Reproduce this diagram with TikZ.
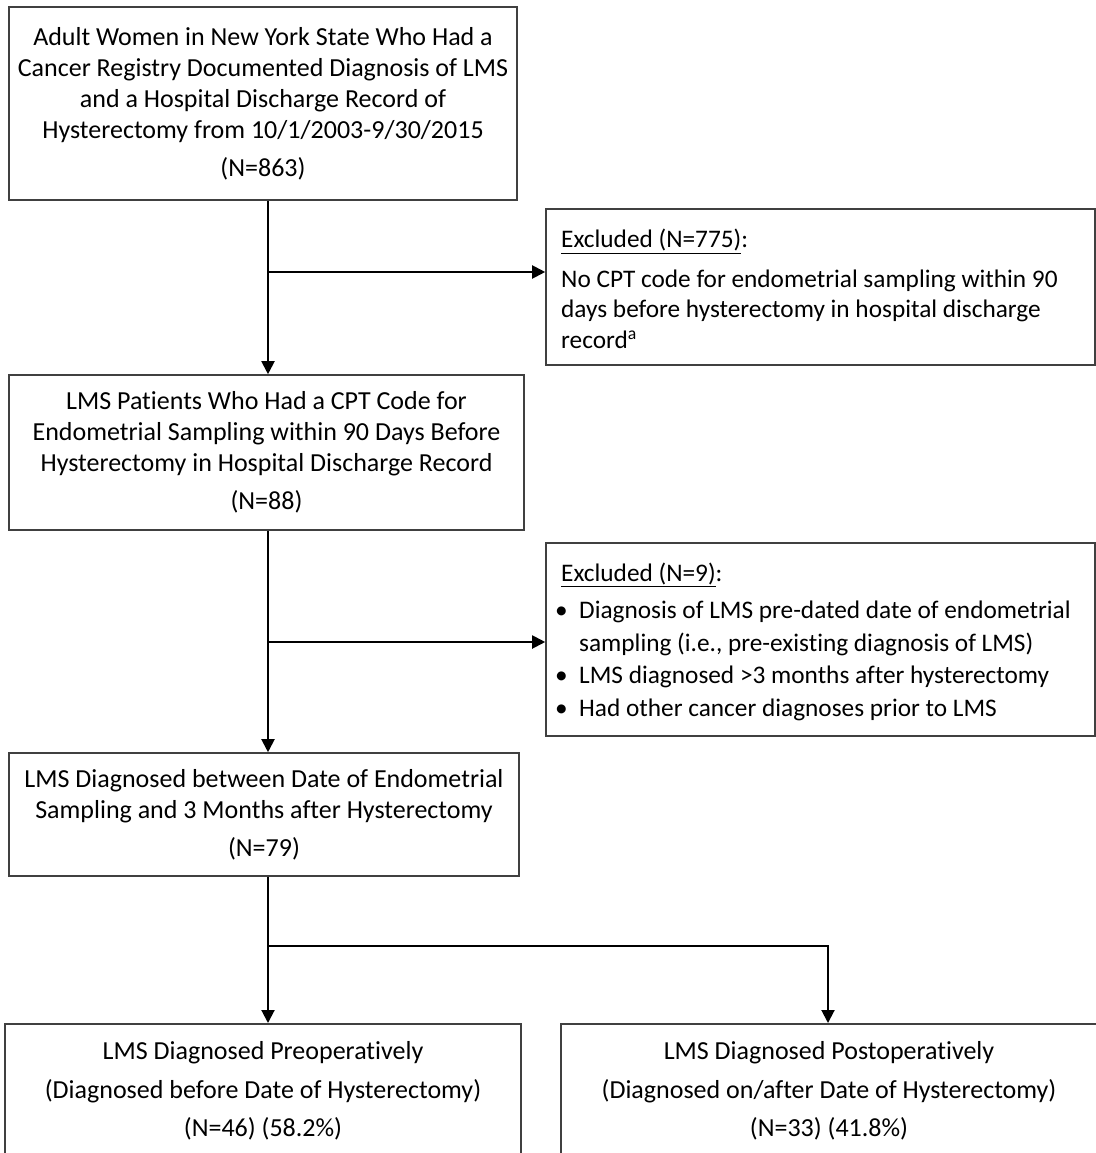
\documentclass[tikz,border=0pt]{standalone}
\usepackage{fontspec}
\setmainfont{Carlito}[Ligatures=NoCommon]
\usetikzlibrary{arrows.meta}
\begin{document}
\begin{tikzpicture}[x=1pt,y=-1pt,
  box/.style={draw=black!75,line width=1.6pt,inner sep=0pt,align=center,font=\fontsize{26}{31}\selectfont},
  exbox/.style={draw=black!75,line width=1.6pt,inner sep=0pt},
  conn/.style={line width=2pt,-{Triangle[length=13pt,width=13pt]}}]
\useasboundingbox (0,0) rectangle (1095,1153);
\fill[white] (0,0) rectangle (1095,1153);

\node[box,minimum width=508pt,minimum height=193pt] (b1) at (263,103.5)
 {Adult Women in New York State Who Had a\\
  Cancer Registry Documented Diagnosis of LMS\\
  and a Hospital Discharge Record of\\
  Hysterectomy from 10/1/2003-9/30/2015\\[7pt]
  (N=863)};

\node[exbox,minimum width=549pt,minimum height=156pt] (e1) at (820.5,287) {};
\node[anchor=west,inner sep=0pt,align=left,font=\fontsize{25.3}{30.5}\selectfont] (e1t) at (561,289)
 {\underline{Excluded (N=775)}:\\[9pt]
  No CPT code for endometrial sampling within 90\\
  days before hysterectomy in hospital discharge\\
  record\textsuperscript{a}};

\node[box,minimum width=515pt,minimum height=155pt] (b2) at (266.5,452.5)
 {LMS Patients Who Had a CPT Code for\\
  Endometrial Sampling within 90 Days Before\\
  Hysterectomy in Hospital Discharge Record\\[7pt]
  (N=88)};

\node[exbox,minimum width=549pt,minimum height=193pt] (e2) at (820.5,639.5) {};
\node[anchor=west,inner sep=0pt,align=left,font=\fontsize{25.3}{32.5}\selectfont] (e2t) at (555,641.5)
 {\hspace*{6pt}\underline{Excluded (N=9)}:\\[5pt]
  \makebox[24pt][l]{\textbullet}Diagnosis of LMS pre-dated date of endometrial\\
  \hspace*{24pt}sampling (i.e., pre-existing diagnosis of LMS)\\
  \makebox[24pt][l]{\textbullet}LMS diagnosed >3 months after hysterectomy\\
  \makebox[24pt][l]{\textbullet}Had other cancer diagnoses prior to LMS};

\node[box,minimum width=510pt,minimum height=123pt] (b3) at (264,814.5)
 {LMS Diagnosed between Date of Endometrial\\
  Sampling and 3 Months after Hysterectomy\\[7pt]
  (N=79)};

\node[box,minimum width=516pt,minimum height=140pt,anchor=north] (b4) at (263,1023) {};
\node[box,draw=none,font=\fontsize{26}{38.5}\selectfont] (b4t) at (263,1091)
 {LMS Diagnosed Preoperatively\\
  (Diagnosed before Date of Hysterectomy)\\
  (N=46) (58.2\%)};

\node[box,minimum width=536pt,minimum height=140pt,anchor=north] (b5) at (829,1023) {};
\node[box,draw=none,font=\fontsize{26}{38.5}\selectfont] (b5t) at (829,1091)
 {LMS Diagnosed Postoperatively\\
  (Diagnosed on/after Date of Hysterectomy)\\
  (N=33) (41.8\%)};

\coordinate (j1) at (268,272);
\coordinate (j2) at (268,642);
\coordinate (j3) at (268,946);
\coordinate (j3r) at (828,946);

\draw[conn] (b1.south -| j1) -- (b2.north -| j1);
\draw[conn] (j1) -- (j1 -| e1.west);
\draw[conn] (b2.south -| j2) -- (b3.north -| j2);
\draw[conn] (j2) -- (j2 -| e2.west);
\draw[conn] (b3.south -| j3) -- (b4.north -| j3);
\draw[conn] (j3) -- (j3r) -- (b5.north -| j3r);
\end{tikzpicture}
\end{document}
